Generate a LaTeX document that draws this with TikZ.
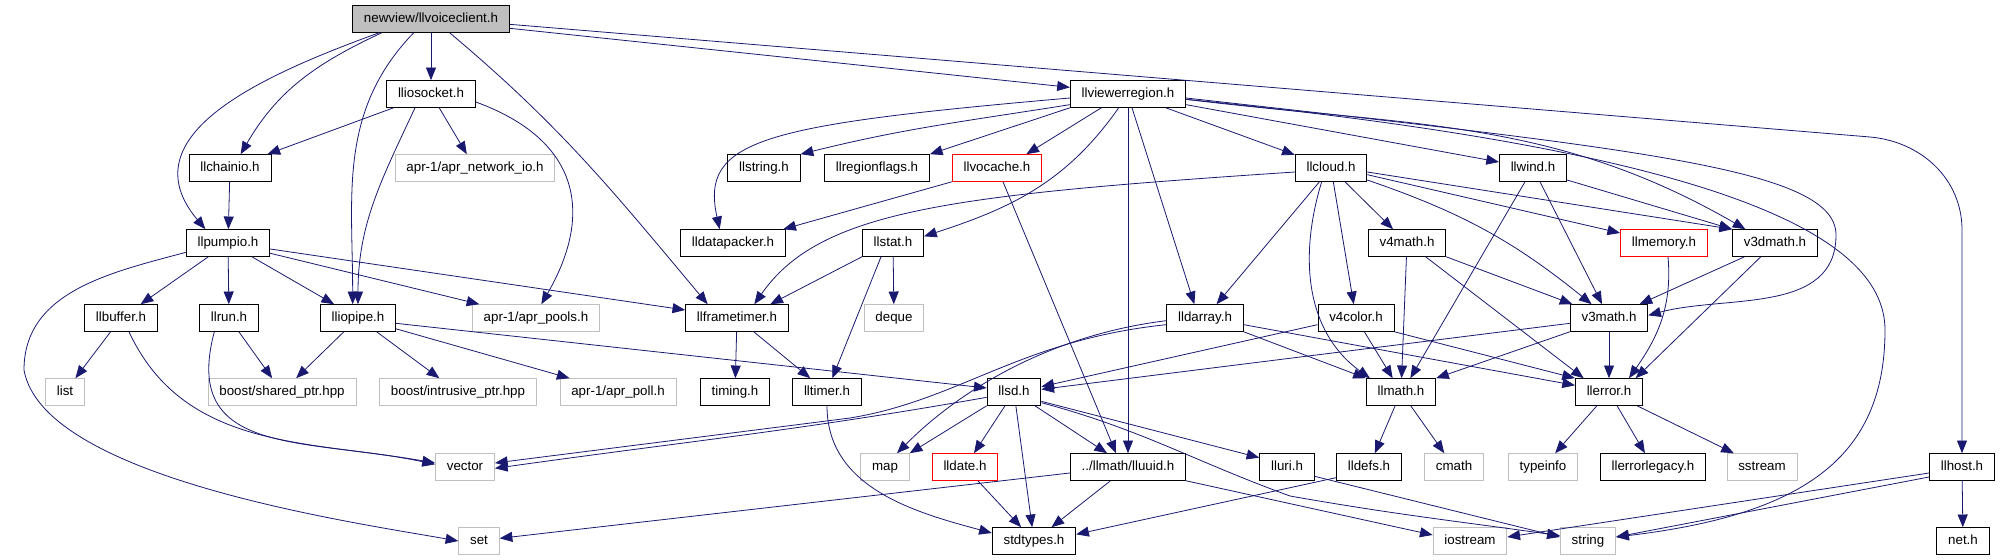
\documentclass[tikz,border=0pt]{standalone}
\usepackage{fontspec}
\setmainfont{Liberation Sans}
\usetikzlibrary{arrows.meta}
\definecolor{edgeblue}{RGB}{25,25,112}
\definecolor{sysgray}{RGB}{191,191,191}
\begin{document}
\begin{tikzpicture}[x=0.75pt,y=-0.75pt,
    hdr/.style={draw=black,line width=0.7pt,minimum height=20pt,inner xsep=8.5pt,inner ysep=0pt,
        text height=7.5pt,text depth=2.2pt,font=\fontsize{10}{12}\selectfont},
    sys/.style={hdr,draw=sysgray},
    miss/.style={hdr,draw=red},
    root/.style={hdr,fill=sysgray},
    dep/.style={draw=edgeblue,line width=0.6pt,-{Triangle[length=9.5pt,width=7.5pt]}}]
    \useasboundingbox (0,0) rectangle (2003,560);
    \node[root] (voice) at (431,19) {newview/llvoiceclient.h};
    \node[hdr] (iosocket) at (431,94) {lliosocket.h};
    \node[hdr] (viewer) at (1128,94) {llviewerregion.h};
    \node[hdr] (chainio) at (230,168) {llchainio.h};
    \node[sys] (aprnet) at (475,168) {apr-1/apr\_network\_io.h};
    \node[hdr] (llstr) at (764,168) {llstring.h};
    \node[hdr] (flags) at (877,168) {llregionflags.h};
    \node[miss] (vocache) at (997,168) {llvocache.h};
    \node[hdr] (cloud) at (1331,168) {llcloud.h};
    \node[hdr] (wind) at (1533,168) {llwind.h};
    \node[hdr] (pumpio) at (228,243) {llpumpio.h};
    \node[hdr] (packer) at (733,243) {lldatapacker.h};
    \node[hdr] (stat) at (893,243) {llstat.h};
    \node[hdr] (vfourm) at (1407,243) {v4math.h};
    \node[miss] (memory) at (1664,243) {llmemory.h};
    \node[hdr] (vthreed) at (1775,243) {v3dmath.h};
    \node[hdr] (buffer) at (121,318) {llbuffer.h};
    \node[hdr] (run) at (229,318) {llrun.h};
    \node[hdr] (iopipe) at (358,318) {lliopipe.h};
    \node[sys] (aprpools) at (536,318) {apr-1/apr\_pools.h};
    \node[hdr] (frametimer) at (737,318) {llframetimer.h};
    \node[sys] (deque) at (894,318) {deque};
    \node[hdr] (darray) at (1205,318) {lldarray.h};
    \node[hdr] (vfourc) at (1356,318) {v4color.h};
    \node[hdr] (vthree) at (1609,318) {v3math.h};
    \node[sys] (list) at (65,392) {list};
    \node[sys] (shared) at (282,392) {boost/shared\_ptr.hpp};
    \node[sys] (intrusive) at (458,392) {boost/intrusive\_ptr.hpp};
    \node[sys] (aprpoll) at (618,392) {apr-1/apr\_poll.h};
    \node[hdr] (timing) at (735,392) {timing.h};
    \node[hdr] (timer) at (827,392) {lltimer.h};
    \node[hdr] (llsd) at (1014,392) {llsd.h};
    \node[hdr] (math) at (1401,392) {llmath.h};
    \node[hdr] (error) at (1609,392) {llerror.h};
    \node[sys] (vector) at (465,467) {vector};
    \node[sys] (map) at (885,467) {map};
    \node[miss] (date) at (965,467) {lldate.h};
    \node[hdr] (uuid) at (1128,467) {../llmath/lluuid.h};
    \node[hdr] (uri) at (1287,467) {lluri.h};
    \node[hdr] (defs) at (1369,467) {lldefs.h};
    \node[sys] (cmath) at (1454,467) {cmath};
    \node[sys] (typeinfo) at (1543,467) {typeinfo};
    \node[hdr] (legacy) at (1653,467) {llerrorlegacy.h};
    \node[sys] (sstream) at (1762,467) {sstream};
    \node[hdr] (host) at (1962,467) {llhost.h};
    \node[sys] (set) at (479,541) {set};
    \node[hdr] (stdtypes) at (1034,541) {stdtypes.h};
    \node[sys] (iostream) at (1470,541) {iostream};
    \node[sys] (string) at (1588,541) {string};
    \node[hdr] (net) at (1963,541) {net.h};

    \draw[dep] (voice) -- (iosocket);
    \draw[dep] ([xshift=-37pt]voice.south) to[out=205,in=60] ([xshift=8pt]chainio.north);
    \draw[dep] ([xshift=-39pt]voice.south) to[out=200,in=130,looseness=1.2] ([xshift=-17pt]pumpio.north);
    \draw[dep] ([xshift=-13pt]voice.south) to[out=226,in=90] ([xshift=-4pt]iopipe.north);
    \draw[dep] ([xshift=14pt]voice.south) to[out=-40,in=130] ([xshift=-22pt]frametimer.north);
    \draw[dep] ([yshift=-7pt]voice.east) -- ([yshift=5pt]viewer.west);
    \draw[dep] ([yshift=-4pt]voice.east) -- (1870,137) to[out=-5,in=90] (1962,230) -- (host);
    \draw[dep] (iosocket) -- (chainio);
    \draw[dep] (iosocket) -- (aprnet);
    \draw[dep] ([xshift=-12pt]iosocket.south) to[out=245,in=90] (iopipe.north);
    \draw[dep] ([yshift=-6pt]iosocket.east) to[out=-20,in=60,looseness=1.3] ([xshift=4pt]aprpools.north);
    \draw[dep] (chainio) -- (pumpio);
    \draw[dep] (pumpio) -- (buffer);
    \draw[dep] (pumpio) -- (run);
    \draw[dep] (pumpio) -- (iopipe);
    \draw[dep] (pumpio) -- (aprpools);
    \draw[dep] ([yshift=-4.5pt]pumpio.east) -- ([yshift=6pt]frametimer.west);
    \draw[dep] ([yshift=-7pt]pumpio.west) to[out=195,in=90] (24,370) to[out=-80,in=170,looseness=0.6] (set.west);
    \draw[dep] (buffer) -- (list);
    \draw[dep] ([xshift=6pt]buffer.south) to[out=-65,in=170] ([yshift=3pt]vector.west);
    \draw[dep] (run) -- (shared);
    \draw[dep] ([xshift=-11pt]run.south) to[out=-105,in=168,looseness=1.3] ([yshift=2pt]vector.west);
    \draw[dep] (iopipe) -- (shared);
    \draw[dep] (iopipe) -- (intrusive);
    \draw[dep] (iopipe) -- (aprpoll);
    \draw[dep] ([yshift=-4pt]iopipe.east) -- ([yshift=3pt]llsd.west);
    \draw[dep] ([yshift=-3pt]viewer.west) .. controls (760,125) and (700,140) .. ([xshift=-10pt]packer.north);
    \draw[dep] ([yshift=-8pt]viewer.west) to[out=189,in=14] (llstr.north east);
    \draw[dep] (viewer.south west) -- (flags.north east);
    \draw[dep] ([xshift=-20pt]viewer.south) -- ([xshift=22pt]vocache.north);
    \draw[dep] ([xshift=-7pt]viewer.south) to[out=235,in=18] ([yshift=5pt]stat.east);
    \draw[dep] (viewer) -- (uuid);
    \draw[dep] ([xshift=3pt]viewer.south) -- ([xshift=-8pt]darray.north);
    \draw[dep] (viewer) -- (cloud);
    \draw[dep] ([yshift=-8pt]viewer.east) -- ([yshift=4.5pt]wind.west);
    \draw[dep] ([yshift=-4pt]viewer.east) to[out=-7,in=150] ([xshift=10pt]vthreed.north west);
    \draw[dep] ([yshift=-3pt]viewer.east) .. controls (1650,150) and (1836,170) .. (1836,235) to[out=-90,in=15] ([yshift=2pt]vthree.east);
    \draw[dep] ([yshift=-4pt]viewer.east) .. controls (1700,150) and (1885,230) .. (1885,330) .. controls (1885,460) and (1800,515) .. ([yshift=3pt]string.east);
    \draw[dep] (vocache.south west) -- ([xshift=-2pt]packer.north east);
    \draw[dep] ([xshift=4.5pt]vocache.south) -- ([xshift=-9pt]uuid.north);
    \draw[dep] ([yshift=-3pt]cloud.west) .. controls (950,195) and (820,210) .. ([xshift=13pt]frametimer.north);
    \draw[dep] (cloud) -- (darray);
    \draw[dep] ([xshift=-7pt]cloud.south) to[out=253,in=144] ([xshift=3pt]math.north west);
    \draw[dep] (cloud) -- (vfourc);
    \draw[dep] (cloud) -- (vfourm);
    \draw[dep] (cloud) to[bend left=10] (vthree);
    \draw[dep] ([yshift=-5pt]cloud.east) -- ([yshift=7.5pt]memory.west);
    \draw[dep] ([yshift=-3pt]cloud.east) -- (vthreed.north west);
    \draw[dep] ([xshift=-6pt]wind.south) -- ([xshift=7pt]math.north);
    \draw[dep] (wind) -- (vthree);
    \draw[dep] ([yshift=-9pt]wind.east) -- (vthreed.north west);
    \draw[dep] (stat.south west) -- ([xshift=25pt]frametimer.north);
    \draw[dep] (stat) -- (deque);
    \draw[dep] ([xshift=-9pt]stat.south) -- ([xshift=4pt]timer.north);
    \draw[dep] (frametimer) -- (timing);
    \draw[dep] (frametimer) -- (timer);
    \draw[dep] (timer.south) to[out=-90,in=165] ([yshift=6pt]stdtypes.west);
    \draw[dep] (vfourm) -- (math);
    \draw[dep] (vfourm.south east) -- ([xshift=2pt]vthree.north west);
    \draw[dep] ([xshift=14pt]vfourm.south) -- ([xshift=-19pt]error.north);
    \draw[dep] ([xshift=3pt]memory.south) to[out=-85,in=55] ([xshift=15pt]error.north);
    \draw[dep] (vthreed) -- (vthree);
    \draw[dep] (vthreed) -- ([xshift=20pt]error.north);
    \draw[dep] (vthree) -- (error);
    \draw[dep] (vthree.south west) -- (math.north east);
    \draw[dep] ([yshift=-4pt]vthree.west) -- ([yshift=2pt]llsd.east);
    \draw[dep] ([yshift=-5pt]vfourc.west) -- ([yshift=4pt]llsd.east);
    \draw[dep] (vfourc) -- (math);
    \draw[dep] (vfourc.south east) -- (error.north west);
    \draw[dep] (darray.south east) -- (math.north west);
    \draw[dep] ([yshift=-5pt]darray.east) -- ([yshift=5pt]error.west);
    \draw[dep] ([yshift=-2pt]darray.west) .. controls (1050,335) and (960,390) .. ([xshift=9pt]map.north);
    \draw[dep] ([yshift=-5pt]darray.west) .. controls (1020,340) and (960,400) .. (850,418) -- ([yshift=3pt]vector.east);
    \draw[dep] ([yshift=-4pt]llsd.west) to[out=190,in=8] ([yshift=-1pt]vector.east);
    \draw[dep] (llsd.south west) -- (map.north east);
    \draw[dep] (llsd) -- (date);
    \draw[dep] (llsd) -- (stdtypes);
    \draw[dep] (llsd) -- (uuid);
    \draw[dep] ([yshift=-7pt]llsd.east) -- ([yshift=7pt]uri.west);
    \draw[dep] ([yshift=-8pt]llsd.east) to[out=-15,in=160] (1290,496) to[out=-10,in=172] ([yshift=4pt]string.west);
    \draw[dep] ([yshift=-7pt]uri.east) -- ([yshift=3pt]string.west);
    \draw[dep] (uuid) -- (stdtypes);
    \draw[dep] ([yshift=-4.5pt]uuid.west) -- ([yshift=2pt]set.east);
    \draw[dep] (uuid.south east) -- ([yshift=4.5pt]iostream.west);
    \draw[dep] (date) -- (stdtypes);
    \draw[dep] ([yshift=-8pt]defs.west) -- ([yshift=5pt]stdtypes.east);
    \draw[dep] (math) -- (defs);
    \draw[dep] (math) -- (cmath);
    \draw[dep] (error) -- (typeinfo);
    \draw[dep] (error) -- (legacy);
    \draw[dep] (error) -- (sstream);
    \draw[dep] ([yshift=-4.5pt]host.west) -- ([yshift=3pt]iostream.east);
    \draw[dep] ([yshift=-7.5pt]host.west) -- ([yshift=3pt]string.east);
    \draw[dep] (host) -- (net);
\end{tikzpicture}
\end{document}
